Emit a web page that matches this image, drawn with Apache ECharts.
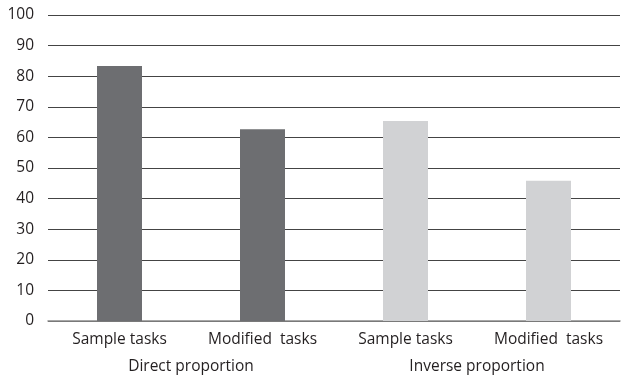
<!DOCTYPE html>
<html>
<head>
<meta charset="utf-8">
<script src="https://cdn.jsdelivr.net/npm/echarts@6/dist/echarts.min.js"></script>
<style>
  html, body { margin: 0; padding: 0; background: #fff; }
  #main { width: 621px; height: 379px; }
</style>
</head>
<body>
<div id="main"></div>
<script>
// 数据
var tasks = ['Sample tasks', 'Modified  tasks', 'Sample tasks', 'Modified  tasks'];
var groups = ['Direct proportion', 'Inverse proportion'];
var values = [83.3, 62.7, 65.4, 45.8];
var barColors = ['#6d6e71', '#6d6e71', '#d1d2d4', '#d1d2d4'];
var yTicks = [0, 10, 20, 30, 40, 50, 60, 70, 80, 90, 100];

var myChart = echarts.init(document.getElementById('main'));
var font = 'Open Sans';

var option = {
    animation: false,
    grid: { left: 48, right: 1, top: 15, bottom: 58 },
    xAxis: [
        {
            type: 'category',
            data: tasks,
            axisLine: { lineStyle: { color: '#8a8a8a', width: 1.5 } },
            axisTick: { show: false },
            axisLabel: { color: '#231f20', fontSize: 15.5, fontFamily: font, margin: 11, interval: 0 }
        },
        {
            type: 'category',
            position: 'bottom',
            offset: 27,
            data: groups,
            axisLine: { show: false },
            axisTick: { show: false },
            axisLabel: { color: '#231f20', fontSize: 15.5, fontFamily: font, margin: 11, interval: 0 }
        }
    ],
    yAxis: {
        type: 'value',
        min: yTicks[0],
        max: yTicks[yTicks.length - 1],
        interval: 10,
        axisLine: { show: false },
        axisTick: { show: false },
        axisLabel: { color: '#231f20', fontSize: 15.5, fontFamily: font, margin: 14 },
        splitLine: { lineStyle: { color: '#444', width: 1 } }
    },
    series: [{
        type: 'bar',
        xAxisIndex: 0,
        barWidth: 45,
        data: values.map(function (v, i) {
            return { value: v, itemStyle: { color: barColors[i] } };
        })
    }]
};
myChart.setOption(option);
</script>
</body>
</html>
